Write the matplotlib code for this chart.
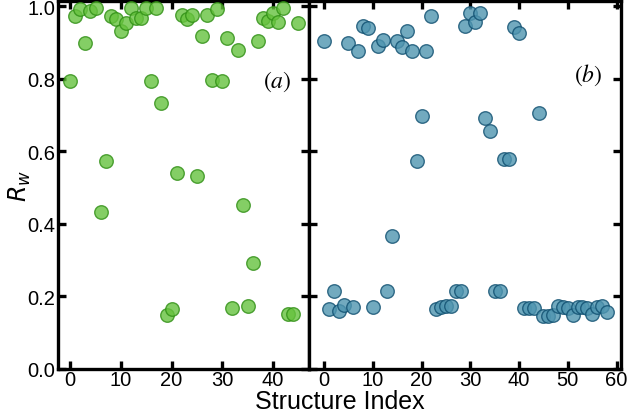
import matplotlib
matplotlib.use("Agg")
import matplotlib.pyplot as plt
import numpy as np

# Panel (a) data
rw_a = [0.795, 0.973, 0.992, 0.898, 0.988, 0.997, 0.433, 0.573, 0.973, 0.965,
        0.932, 0.955, 0.997, 0.967, 0.967, 0.997, 0.794, 0.997, 0.733, 0.149,
        0.165, 0.541, 0.976, 0.964, 0.976, 0.531, 0.919, 0.976, 0.797, 0.994,
        0.794, 0.912, 0.169, 0.879, 0.451, 0.174, 0.291, 0.904, 0.968, 0.959,
        0.981, 0.957, 0.997, 0.152, 0.153, 0.953]
idx_a = list(range(len(rw_a)))

# Panel (b) data
rw_b = [0.904, 0.166, 0.214, 0.159, 0.177, 0.898, 0.171, 0.877, 0.946, 0.941,
        0.172, 0.890, 0.907, 0.214, 0.368, 0.904, 0.888, 0.932, 0.877, 0.574,
        0.697, 0.877, 0.973, 0.166, 0.170, 0.174, 0.175, 0.214, 0.214, 0.946,
        0.981, 0.956, 0.981, 0.693, 0.657, 0.214, 0.214, 0.578, 0.578, 0.942,
        0.927, 0.168, 0.168, 0.168, 0.707, 0.147, 0.147, 0.149, 0.175, 0.170,
        0.168, 0.149, 0.170, 0.170, 0.168, 0.152, 0.170, 0.175, 0.157]
idx_b = list(range(len(rw_b)))

yticks = [0.0, 0.2, 0.4, 0.6, 0.8, 1.0]
xticks_a = [0, 10, 20, 30, 40]
xticks_b = [0, 10, 20, 30, 40, 50, 60]

plt.rcParams['font.family'] = ['Liberation Sans', 'DejaVu Sans']
plt.rcParams['mathtext.fontset'] = 'stix'

fig = plt.figure(figsize=(6.3, 4.14), dpi=100)
L, M, R = 58 / 630, 309 / 630, 621 / 630
B, T = 1 - 370 / 414, 1 - 2 / 414
ax1 = fig.add_axes([L, B, M - L, T - B])
ax2 = fig.add_axes([M, B, R - M, T - B])

ax1.scatter(idx_a, rw_a, s=95, facecolor='#66c23e', edgecolor='#2f8f14',
            linewidths=1.0, alpha=0.8, zorder=3)
ax2.scatter(idx_b, rw_b, s=95, facecolor='#4f95b0', edgecolor='#0f4f70',
            linewidths=1.0, alpha=0.8, zorder=3)

ax1.set_xlim(-2.4, 47.1)
ax2.set_xlim(-3.1, 60.9)
for ax in (ax1, ax2):
    ax.set_ylim(0.0, 1.015)
    ax.set_yticks(yticks)
    for sp in ax.spines.values():
        sp.set_linewidth(2.4)
    ax.tick_params(direction='in', length=6, width=2.4, top=True, right=True,
                   labelsize=14.5, pad=2)
    ax.tick_params(axis='x', pad=1)

ax1.set_xticks(xticks_a)
ax2.set_xticks(xticks_b)
ax1.set_yticklabels([f"{v:.1f}" for v in yticks])
ax2.set_yticklabels([])

ax1.set_ylabel(r"$R_w$", fontsize=17, math_fontfamily='dejavusans')
ax1.yaxis.set_label_coords(-0.10, 0.5)
fig.text((L + R) / 2, 0.0, "Structure Index", ha='center', va='bottom',
         fontsize=18)

ax1.text(0.93, 0.783, r"$(a)$", transform=ax1.transAxes, ha='right',
         va='center', fontsize=17)
ax2.text(0.939, 0.80, r"$(b)$", transform=ax2.transAxes, ha='right',
         va='center', fontsize=17)

fig.savefig("out.png", dpi=100)
